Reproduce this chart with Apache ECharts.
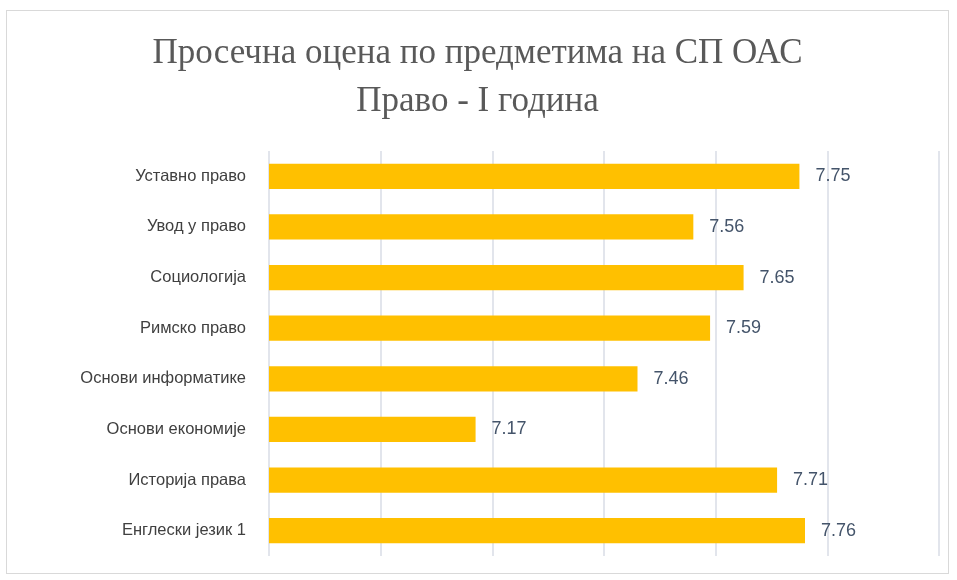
<!DOCTYPE html>
<html>
<head>
<meta charset="utf-8">
<script src="https://cdn.jsdelivr.net/npm/echarts@6/dist/echarts.min.js"></script>
<style>
html, body { margin: 0; padding: 0; background: #fff; }
#chart { position: absolute; left: 6px; top: 10px; width: 943px; height: 564px; border: 1px solid #d9d9d9; box-sizing: border-box; }
</style>
</head>
<body>
<div id="chart"></div>
<script>
// предмети (одозго надоле)
var subjects = ['Уставно право', 'Увод у право', 'Социологија', 'Римско право',
	'Основи информатике', 'Основи економије', 'Историја права', 'Енглески језик 1'];
// просечне оцене
var grades = [7.75, 7.56, 7.65, 7.59, 7.46, 7.17, 7.71, 7.76];
var axisMin = 6.8;
var axisMax = 8.0;
var axisStep = 0.2;

var myChart = echarts.init(document.getElementById('chart'));
var option = {
	animation: false,
	title: {
		text: 'Просечна оцена по предметима на СП ОАС\nПраво - I година',
		left: 'center',
		top: 14,
		textStyle: {
			fontFamily: 'Liberation Serif',
			fontWeight: 'normal',
			fontSize: 35,
			lineHeight: 48,
			color: '#595959'
		}
	},
	grid: {
		left: 262,
		right: 9,
		top: 140,
		bottom: 17,
		containLabel: false
	},
	xAxis: {
		type: 'value',
		min: axisMin,
		max: axisMax,
		interval: axisStep,
		axisLabel: { show: false },
		axisLine: { show: false },
		axisTick: { show: false },
		splitLine: { show: true, lineStyle: { color: '#d9dde6', width: 1.5 } }
	},
	yAxis: {
		type: 'category',
		inverse: true,
		data: subjects,
		axisLine: { show: false },
		axisTick: { show: false },
		axisLabel: {
			margin: 23,
			fontFamily: 'Liberation Sans',
			fontSize: 16.5,
			color: '#404040'
		}
	},
	series: [{
		type: 'bar',
		data: grades,
		barCategoryGap: '50%',
		itemStyle: { color: '#FFC000' },
		label: {
			show: true,
			position: 'right',
			distance: 16,
			fontFamily: 'Liberation Sans',
			fontSize: 18,
			color: '#44546A',
			formatter: function (p) { return p.value.toFixed(2); }
		}
	}]
};
myChart.setOption(option);
</script>
</body>
</html>
